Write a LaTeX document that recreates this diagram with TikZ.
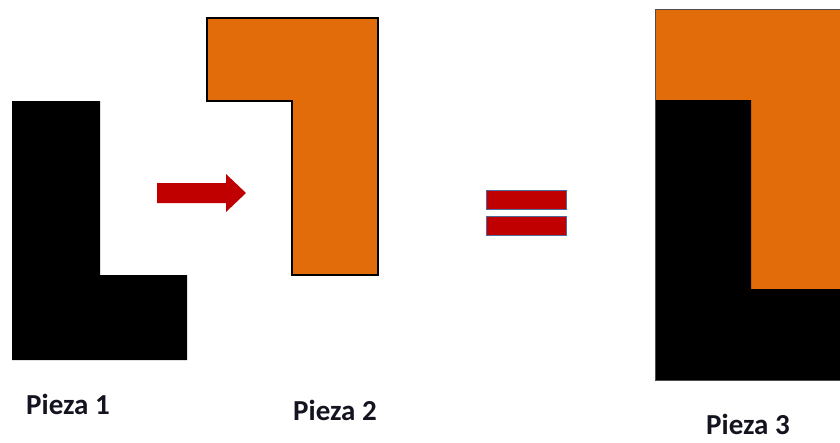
\documentclass[tikz,border=0pt]{standalone}
\usepackage{fontspec}
\setsansfont{Carlito}
\usepackage{tikz}
\usetikzlibrary{positioning}
\definecolor{inkK}{HTML}{141420}
\definecolor{cOrg}{HTML}{E36C0A}
\definecolor{cRed}{HTML}{C00000}
\definecolor{cEqE}{HTML}{4F6A9A}

\begin{document}
\begin{tikzpicture}[x=1pt,y=-1pt,
  pieza/.style={font=\sffamily\bfseries\fontsize{29}{32}\selectfont,
                text=inkK, inner sep=0pt},
  eqbar/.style={fill=cRed, draw=cEqE, line width=1pt}]
  \useasboundingbox (0,0) rectangle (840,442);

  % pieza 1
  \fill[black] (12,101) -- (100,101) -- (100,275) -- (187,275)
    -- (187,360) -- (12,360) -- cycle;

  % pieza 2
  \filldraw[fill=cOrg, draw=black, line width=1.2pt]
    (207,18) -- (378,18) -- (378,275) -- (292,275)
    -- (292,101) -- (207,101) -- cycle;

  % flecha
  \fill[cRed] (157,183) -- (226,183) -- (226,174) -- (246,193)
    -- (226,212) -- (226,203) -- (157,203) -- cycle;

  % igual
  \filldraw[eqbar] (486,190) rectangle (566,209);
  \filldraw[eqbar] (486,216) rectangle (566,235);

  % pieza 3
  \fill[cOrg] (655,9) rectangle (840,380);
  \fill[black] (655,100) -- (751,100) -- (751,289) -- (840,289)
    -- (840,380) -- (655,380) -- cycle;
  \draw[gray!60!black, line width=1pt] (840,9) -- (655,9) -- (655,380) -- (840,380);

  % etiquetas
  \node[pieza] (p1) at (68,404) {Pieza 1};
  \node[pieza] (p2) at (335,410) {Pieza 2};
  \node[pieza] (p3) at (748,424) {Pieza 3};
\end{tikzpicture}
\end{document}
